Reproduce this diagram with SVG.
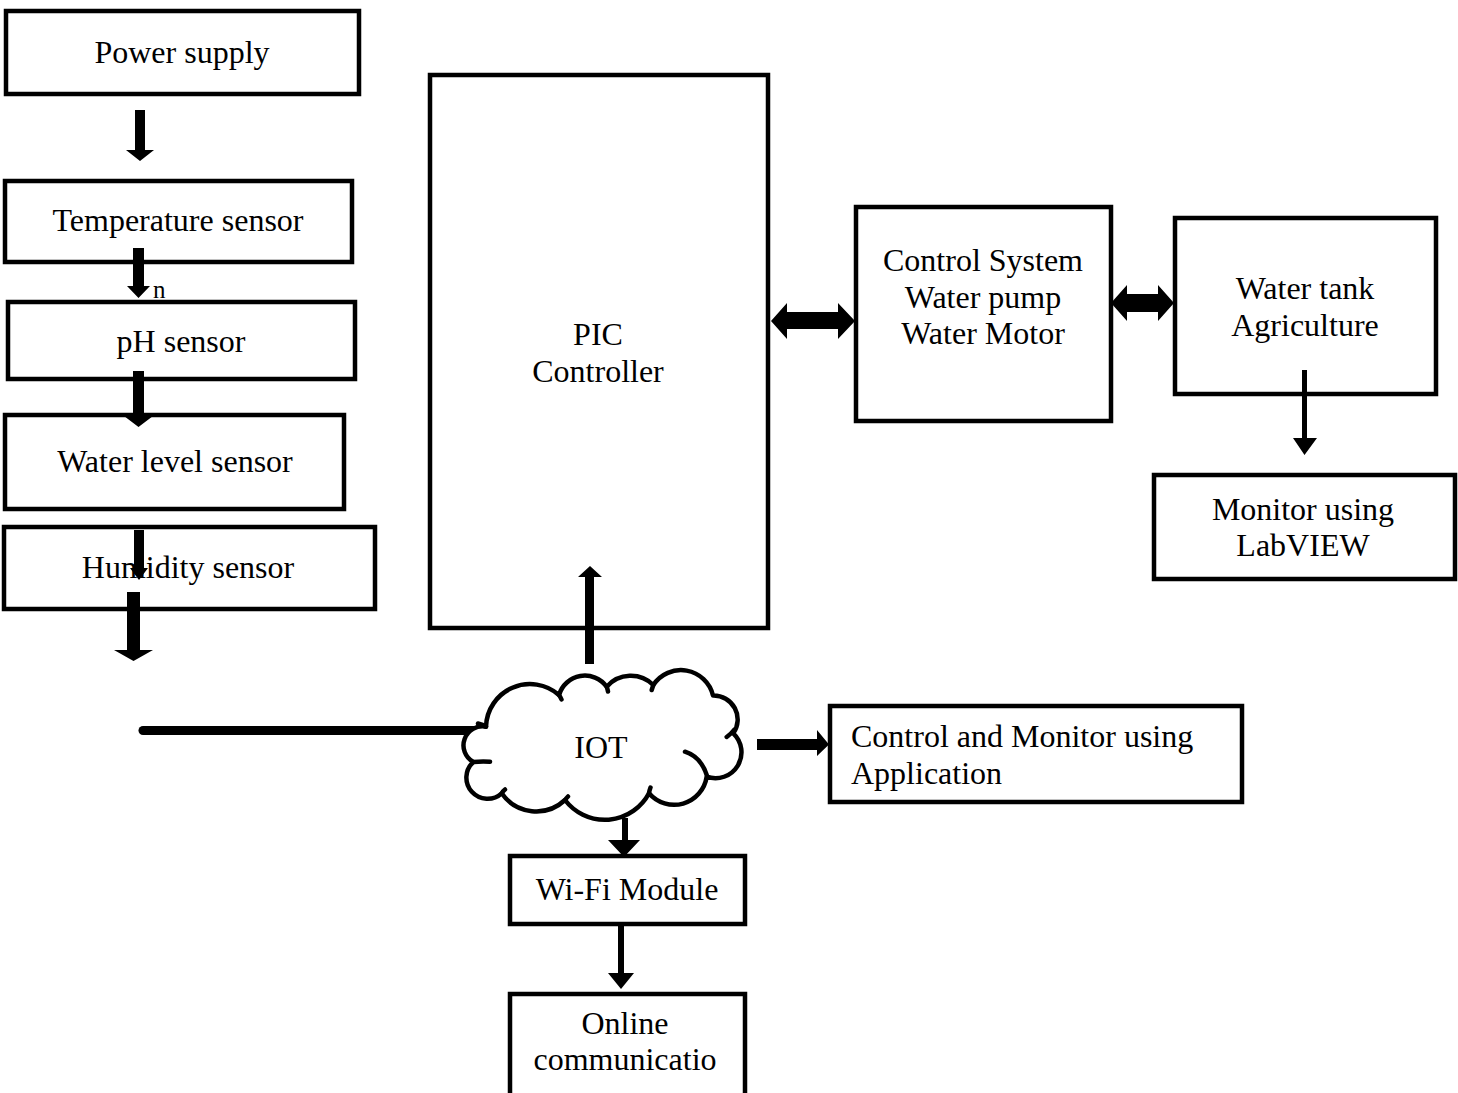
<svg xmlns="http://www.w3.org/2000/svg" width="1458" height="1093" viewBox="0 0 1458 1093">
<style>
.box{fill:#fff;stroke:#000;stroke-width:4.5}
.t{font-family:"Liberation Serif","Times New Roman",serif;font-size:32px;fill:#000}
.c{text-anchor:middle}
.ar{fill:#000;stroke:none}
.cl{fill:#fff;stroke:#000;stroke-width:4.5;stroke-linejoin:round}
.tk{fill:none;stroke:#000;stroke-width:4.5;stroke-linecap:round}
</style>
<rect width="1458" height="1093" fill="#fff"/>
<g id="nodes">
<g id="power"><rect class="box" x="6" y="11" width="353" height="83"/><text class="t c" x="182" y="63">Power supply</text></g>
<g id="temp"><rect class="box" x="5" y="181" width="347" height="81"/><text class="t c" x="178" y="231">Temperature sensor</text></g>
<g id="ph"><rect class="box" x="8" y="302" width="347" height="77"/><text class="t c" x="181" y="352">pH sensor</text></g>
<g id="wl"><rect class="box" x="5" y="415" width="339" height="94"/><text class="t c" x="175" y="472">Water level sensor</text></g>
<g id="hum"><rect class="box" x="4" y="527" width="371" height="82"/><text class="t c" x="188" y="578">Humidity sensor</text></g>
<g id="pic"><rect class="box" x="430" y="75" width="338" height="553"/><text class="t c" x="598" y="345">PIC</text><text class="t c" x="598" y="382">Controller</text></g>
<g id="ctrl"><rect class="box" x="856" y="207" width="255" height="214"/><text class="t c" x="983" y="271">Control System</text><text class="t c" x="983" y="308">Water pump</text><text class="t c" x="983" y="344">Water Motor</text></g>
<g id="tank"><rect class="box" x="1175" y="218" width="261" height="176"/><text class="t c" x="1305" y="299">Water tank</text><text class="t c" x="1305" y="336">Agriculture</text></g>
<g id="labview"><rect class="box" x="1154" y="475" width="301" height="104"/><text class="t c" x="1303" y="520">Monitor using</text><text class="t c" x="1303" y="556">LabVIEW</text></g>
<g id="app"><rect class="box" x="830" y="706" width="412" height="96"/><text class="t" x="851" y="747">Control and Monitor using</text><text class="t" x="851" y="784">Application</text></g>
<g id="wifi"><rect class="box" x="510" y="856" width="235" height="68"/><text class="t c" x="627" y="900">Wi-Fi Module</text></g>
<g id="online"><rect class="box" x="510" y="994" width="235" height="120"/><text class="t c" x="625" y="1034">Online</text><text class="t c" x="625" y="1070">communicatio</text></g>
</g>
<g id="connectors">
<path class="ar" d="M135 110H145V150H154L140 161L126 150H135Z"/>
<path class="ar" d="M133 248H144V286H150L138.5 298L127 286H133Z"/>
<text class="t" x="153" y="298" style="font-size:25px">n</text>
<path class="ar" d="M133 371H144V416H153L138.5 427L124 416H133Z"/>
<path class="ar" d="M134 530H144V568H148L139 580L130 568H134Z"/>
<path class="ar" d="M127 592H140V650H153L133.5 661L114 650H127Z"/>
<line x1="143" y1="730.5" x2="480" y2="730.5" stroke="#000" stroke-width="9" stroke-linecap="round"/>
<path class="ar" d="M585 664V577H578L590 566L602 577H594V664Z"/>
<path class="ar" d="M771 321L787 303V312H838V303L855 321L838 339V329H787V339Z"/>
<path class="ar" d="M1111 303L1127 285V294H1158V285L1174 303L1158 321V312H1127V321Z"/>
<path class="ar" d="M1302 370H1307V438H1317L1304.5 455L1293 438H1302Z"/>
<path class="ar" d="M757 739H817V730L829 744.5L817 756V750H757Z"/>
<path class="ar" d="M622 818H628V840H640L624 857L608 840H622Z"/>
<path class="ar" d="M618 924H624V973H634L621 989L608 973H618Z"/>
</g>
<g id="iot">
<path class="cl" d="M486 726.7A44 44 0 0 1 559 695A27 27 0 0 1 606.7 686.7A32 32 0 0 1 653.3 685A33 33 0 0 1 713 695.5A24 24 0 0 1 733.3 733.3A26 26 0 0 1 706.7 776.7A33 33 0 0 1 649 793.3A50 50 0 0 1 565 800A42 42 0 0 1 501.7 793.3A21 21 0 0 1 473.3 762A19 19 0 0 1 486 726.7Z"/>
<path class="tk" d="M478 723.5Q483 724.5 486 726.7M559 695Q560.5 697 561.5 699.5M606.7 686.7Q607.5 689 608 691.5M653.3 685Q652.5 687.5 651.7 690M726.7 737Q731 734 734 730M685 751.7Q701 757 706.7 775M649 793.3Q649.5 790 650.5 787.5M565 800Q566.5 798 568 796.5M501.7 793.3Q503 791 505 789.5M473.3 762Q482 761 490 761.7"/>
<text class="t c" x="601" y="758">IOT</text>
</g>
</svg>
